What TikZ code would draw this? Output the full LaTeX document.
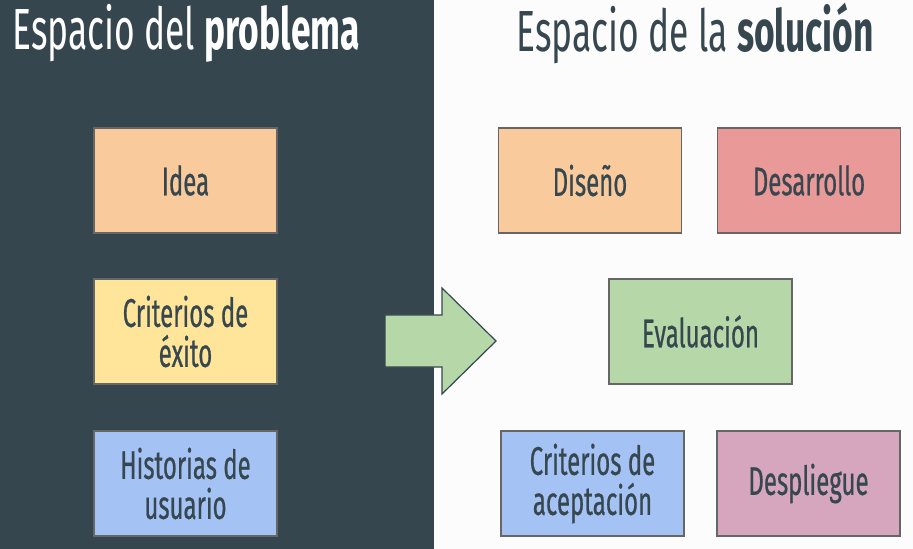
\documentclass[tikz,border=0pt]{standalone}
\usepackage{fontspec}
\setmainfont[FakeStretch=0.6, FakeBold=0.5]{Fira Sans}
\newfontfamily\titulofont[FakeStretch=0.61]{Fira Sans}
\usetikzlibrary{positioning}
\definecolor{pizarra}{HTML}{36464E}
\definecolor{tinta}{HTML}{37474F}
\definecolor{melocoton}{HTML}{F9CB9C}
\definecolor{coral}{HTML}{EA9999}
\definecolor{amarillo}{HTML}{FFE599}
\definecolor{verde}{HTML}{B6D7A8}
\definecolor{azul}{HTML}{A4C2F4}
\definecolor{rosa}{HTML}{D5A6BD}
\tikzset{
  caja/.style={draw=gray!80!black, line width=0.6pt, minimum width=91.5pt,
    minimum height=52.5pt, align=center, text=tinta,
    font=\fontsize{20}{20}\selectfont},
  titulo/.style={anchor=west, inner sep=0pt,
    font=\titulofont\fontsize{29}{30}\selectfont}
}

\begin{document}
\begin{tikzpicture}[x=0.5pt, y=-0.5pt]
    \fill[white!98!gray] (0, 0) rectangle (913, 549);
    \fill[pizarra] (0, 0) rectangle (434, 549);

    \node[titulo, text=white] (problema) at (12, 33) {Espacio del \textbf{problema}};
    \node[titulo, text=tinta] (solucion) at (516, 33) {Espacio de la \textbf{solución}};

    \node[caja, fill=melocoton] (idea) at (185.5, 180.5) {Idea};
    \node[caja, fill=amarillo] (exito) at (185.5, 331.5) {Criterios de\\éxito};
    \node[caja, fill=azul] (historias) at (185.5, 483.5) {Historias de\\usuario};

    \node[caja, fill=melocoton] (diseno) at (590, 180.5) {Diseño};
    \node[caja, fill=coral] (desarrollo) at (809, 180.5) {Desarrollo};
    \node[caja, fill=verde] (evaluacion) at (700.5, 331.5) {Evaluación};
    \node[caja, fill=azul] (aceptacion) at (592.5, 483.5) {Criterios de\\aceptación};
    \node[caja, fill=rosa] (despliegue) at (808.5, 483.5) {Despliegue};

    \draw[fill=verde, draw=tinta, line width=0.6pt, line join=miter]
      (385, 315) -- (442, 315) -- (442, 288) -- (496, 341)
      -- (442, 394) -- (442, 367) -- (385, 367) -- cycle;
\end{tikzpicture}
\end{document}
